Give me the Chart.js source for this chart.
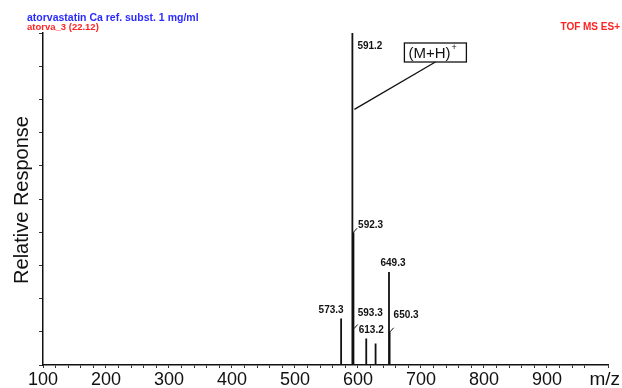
<!DOCTYPE html>
<html>
<head>
<meta charset="utf-8">
<script src="https://cdn.jsdelivr.net/npm/chart.js@4/dist/chart.umd.min.js"></script>
<style>
  html, body { margin: 0; padding: 0; background: #fff; }
  #wrap { width: 622px; height: 388px; }
</style>
</head>
<body>
<div id="wrap"><canvas id="spectrum" width="622" height="388"></canvas></div>
<script>
// Datos del espectro (m/z y altura relativa en %)
const peakMz      = [573.3, 591.2, 592.3, 593.3, 613.2, 628.0, 649.3, 650.3];
const peakHeights = [14,    100,   40,    11,    8,     6.5,   28,    10];
const peakLabels  = ['573.3', '591.2', '592.3', '593.3', '613.2', '', '649.3', '650.3'];
const xTickLabels = [100, 200, 300, 400, 500, 600, 700, 800, 900];
const xRange = [100, 997];

const headerTitle = 'atorvastatin Ca ref. subst. 1 mg/ml';
const headerSample = 'atorva_3 (22.12)';
const headerMode = 'TOF MS ES+';
const ionLabel = '(M+H)';

// Colocación de las etiquetas (px relativos a la cima del pico)
const labelPlacement = {
  '573.3': { dx: -10, dy: -8, align: 'center' },
  '591.2': { dx: 5, dy: 13, align: 'left' },
  '592.3': { dx: 5, dy: -7, align: 'left', tick: true },
  '593.3': { dx: 4, dy: -15, align: 'left', tick: true },
  '613.2': { dx: 5, dy: -8, align: 'center' },
  '649.3': { dx: 4, dy: -9, align: 'center' },
  '650.3': { dx: 4, dy: -17, align: 'left', tick: true }
};

// Construir los "palitos" del espectro sobre una línea base
const stickData = [{ x: xRange[0], y: 0 }];
peakMz.forEach((mz, i) => {
  stickData.push({ x: mz, y: 0 }, { x: mz, y: peakHeights[i] }, { x: mz, y: 0 });
});
stickData.push({ x: xRange[1], y: 0 });

const labelFont = 'bold 10px "Liberation Sans", Arial, sans-serif';

const annotations = {
  id: 'annotations',
  afterDraw(chart) {
    const ctx = chart.ctx;
    const xs = chart.scales.x, ys = chart.scales.y;
    const area = chart.chartArea;
    ctx.save();

    // Encabezados
    ctx.textBaseline = 'middle';
    ctx.textAlign = 'left';
    ctx.font = 'bold 10.5px "Liberation Sans", Arial, sans-serif';
    ctx.fillStyle = '#2b2bff';
    ctx.fillText(headerTitle, 27, 18);
    ctx.font = 'bold 9.5px "Liberation Sans", Arial, sans-serif';
    ctx.fillStyle = '#ff2222';
    ctx.fillText(headerSample, 27, 27);
    ctx.textAlign = 'right';
    ctx.font = 'bold 10px "Liberation Sans", Arial, sans-serif';
    ctx.fillText(headerMode, 620, 27);

    // Título del eje Y
    ctx.save();
    ctx.translate(22, 200);
    ctx.rotate(-Math.PI / 2);
    ctx.textAlign = 'center';
    ctx.font = '20px "Liberation Sans", Arial, sans-serif';
    ctx.fillStyle = '#111';
    ctx.fillText('Relative Response', 0, 0);
    ctx.restore();

    // m/z
    ctx.textAlign = 'right';
    ctx.font = '19px "Liberation Sans", Arial, sans-serif';
    ctx.fillStyle = '#111';
    ctx.fillText('m/z', 620, 380);

    // Etiquetas de picos
    ctx.font = labelFont;
    ctx.fillStyle = '#111';
    ctx.strokeStyle = '#111';
    ctx.lineWidth = 1;
    peakMz.forEach((mz, i) => {
      const txt = peakLabels[i];
      const p = labelPlacement[txt];
      if (!txt || !p) return;
      const px = xs.getPixelForValue(mz);
      const py = ys.getPixelForValue(peakHeights[i]);
      ctx.textAlign = p.align;
      ctx.fillText(txt, px + p.dx, py + p.dy);
      if (p.tick) {
        ctx.beginPath();
        ctx.moveTo(px + 0.5, py);
        ctx.lineTo(px + 4, py - 4);
        ctx.stroke();
      }
    });

    // Recuadro (M+H)+ con línea indicadora
    const mainX = xs.getPixelForValue(peakMz[1]);
    const boxX = mainX + 52, boxY = area.top + 10, boxW = 62, boxH = 19;
    ctx.lineWidth = 1.3;
    ctx.strokeRect(boxX, boxY, boxW, boxH);
    ctx.textAlign = 'left';
    ctx.font = '15px "Liberation Sans", Arial, sans-serif';
    ctx.fillText(ionLabel, boxX + 4, boxY + boxH / 2 + 1);
    const w = ctx.measureText(ionLabel).width;
    ctx.font = '9px "Liberation Sans", Arial, sans-serif';
    ctx.fillText('+', boxX + 4 + w + 1, boxY + 5);
    ctx.beginPath();
    ctx.moveTo(boxX + 31, boxY + boxH);
    ctx.lineTo(mainX + 2, ys.getPixelForValue(77));
    ctx.stroke();

    ctx.restore();
  }
};

const chart = new Chart(document.getElementById('spectrum'), {
  type: 'scatter',
  data: {
    datasets: [{
      data: stickData,
      showLine: true,
      borderColor: '#111',
      borderWidth: 1.8,
      pointRadius: 0,
      tension: 0
    }]
  },
  options: {
    responsive: false,
    animation: false,
    devicePixelRatio: 1,
    layout: { padding: { left: 0, right: 14, top: 33, bottom: 0 } },
    plugins: { legend: { display: false }, tooltip: { enabled: false } },
    scales: {
      x: {
        type: 'linear',
        min: xRange[0],
        max: xRange[1],
        afterFit: (s) => { s.height = 23; },
        border: { display: true, color: '#111', width: 1.5 },
        grid: { drawOnChartArea: false, tickLength: 3, color: '#333' },
        ticks: {
          stepSize: 20,
          autoSkip: false,
          maxRotation: 0,
          minRotation: 0,
          padding: 1,
          color: '#111',
          font: { family: '"Liberation Sans", Arial, sans-serif', size: 18 },
          callback: (v) => xTickLabels.includes(v) ? String(v) : ''
        }
      },
      y: {
        min: 0,
        max: 100,
        afterFit: (s) => { s.width = 43; },
        border: { display: true, color: '#111', width: 1.5 },
        grid: { drawOnChartArea: false, tickLength: 4, color: '#333' },
        ticks: { stepSize: 10, callback: () => '' }
      }
    }
  },
  plugins: [annotations]
});
</script>
</body>
</html>
